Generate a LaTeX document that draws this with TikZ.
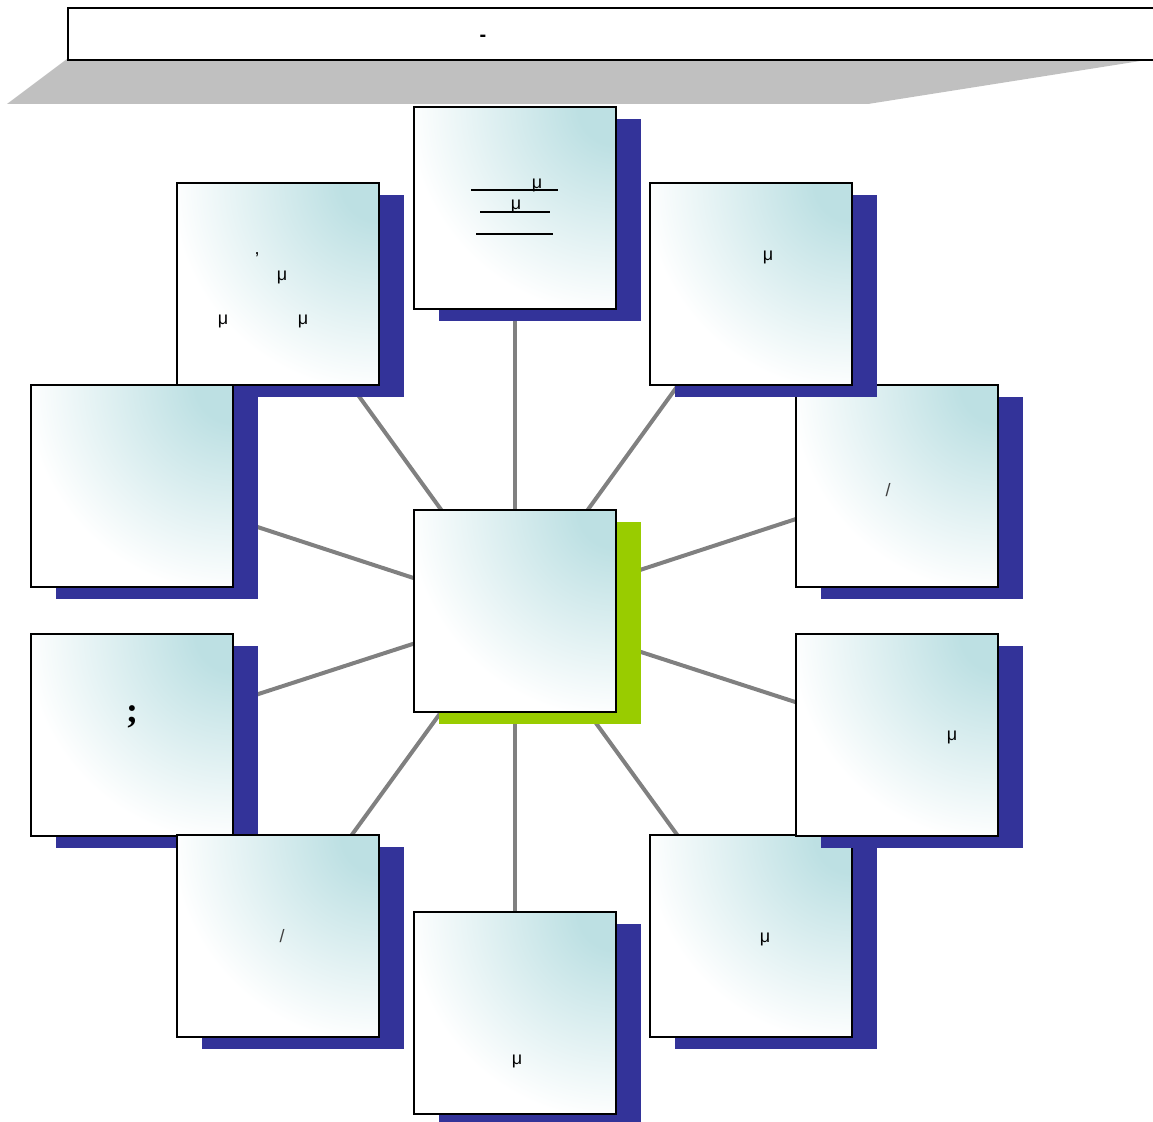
\documentclass[tikz,border=0pt]{standalone}
\usepackage{fontspec}
\setmainfont{Liberation Sans}
\newfontfamily\serifbold{Liberation Serif}
\usetikzlibrary{shadows,backgrounds}
\definecolor{tealc}{RGB}{189,224,227}
\definecolor{shblue}{RGB}{51,51,153}
\definecolor{shgreen}{RGB}{153,204,0}
\definecolor{conngray}{RGB}{128,128,128}
\definecolor{bannergray}{RGB}{192,192,192}
\pgfdeclareradialshading{tealglow}{\pgfpoint{0bp}{0bp}}{color(0bp)=(tealc); color(4.5bp)=(tealc); color(25bp)=(white); color(50bp)=(white)}
\begin{document}
\begin{tikzpicture}[x=0.5pt,y=-0.5pt,
  tilebase/.style={draw=black, line width=1pt, fill=white,
    path picture={\shade[shading=tealglow] (path picture bounding box.north east) circle (104pt);},
    minimum width=101pt, minimum height=101pt, inner sep=0pt, outer sep=0pt},
  tile/.style={tilebase, general shadow={fill=shblue, shadow xshift=12.5pt, shadow yshift=-6pt}},
  tilec/.style={tilebase, general shadow={fill=shgreen, shadow xshift=12.5pt, shadow yshift=-6pt}},
  conn/.style={draw=conngray, line width=2pt},
  lbl/.style={inner sep=0pt, font=\fontsize{9}{10}\selectfont, text=black},
  uline/.style={line width=1pt, black}]
\useasboundingbox (0,0) rectangle (1153,1122);

% banner
\fill[bannergray] (67,59) -- (1153,59) -- (868,104) -- (7,104) -- cycle;
\node[draw=black, line width=1pt, fill=white, minimum width=546.5pt, minimum height=26pt,
  inner sep=0pt, anchor=north west] (banner) at (67,7) {};
\node[inner sep=0pt, font=\bfseries\fontsize{10}{12}\selectfont] (bannertext) at (483,38) {-};

% tiles (order matters for overlaps)
\node[tile] (UL) at (278,284.5) {};
\node[tile] (L1) at (132,486) {};
\node[tile] (L2) at (132,735) {};
\node[tile] (LL) at (278,936.5) {};
\node[tile] (LR) at (751,936.5) {};
\node[tile] (R2) at (897,735) {};
\node[tile] (R1) at (897,486) {};
\node[tile] (UR) at (751,284.5) {};
\node[tile] (T) at (514.5,208) {};
\node[tile] (B) at (514.5,1013) {};
\node[tilec] (C) at (514.5,611) {};

% connectors
\begin{scope}[on background layer]
\foreach \n in {T,UR,R1,R2,LR,B,LL,L2,L1,UL}{
  \draw[conn] (C.center) -- (\n.center);
}
\end{scope}

% texts of the top tile
\draw[uline] (471,190) -- (558,190);
\draw[uline] (480,212) -- (550,212);
\draw[uline] (476,234) -- (553,234);
\node[lbl] (t1) at (537,185) {μ};
\node[lbl] (t2) at (516,206) {μ};

% upper left
\node[lbl] (ul0) at (257,255) {,};
\node[lbl] (ul1) at (282,277) {μ};
\node[lbl] (ul2) at (223,321) {μ};
\node[lbl] (ul3) at (303,321) {μ};

% others
\node[lbl] (ur1) at (768,257) {μ};
\node[lbl, text=black!75] (r1) at (888,490) {/};
\node[lbl] (r2) at (952,737) {μ};
\node[lbl] (lr1) at (765,939) {μ};
\node[lbl] (b1) at (517,1061) {μ};
\node[lbl, text=black!75] (ll1) at (282,936) {/};
\node[inner sep=0pt, font=\serifbold\bfseries\fontsize{18}{20}\selectfont] (l2) at (132,717) {;};
\end{tikzpicture}
\end{document}
